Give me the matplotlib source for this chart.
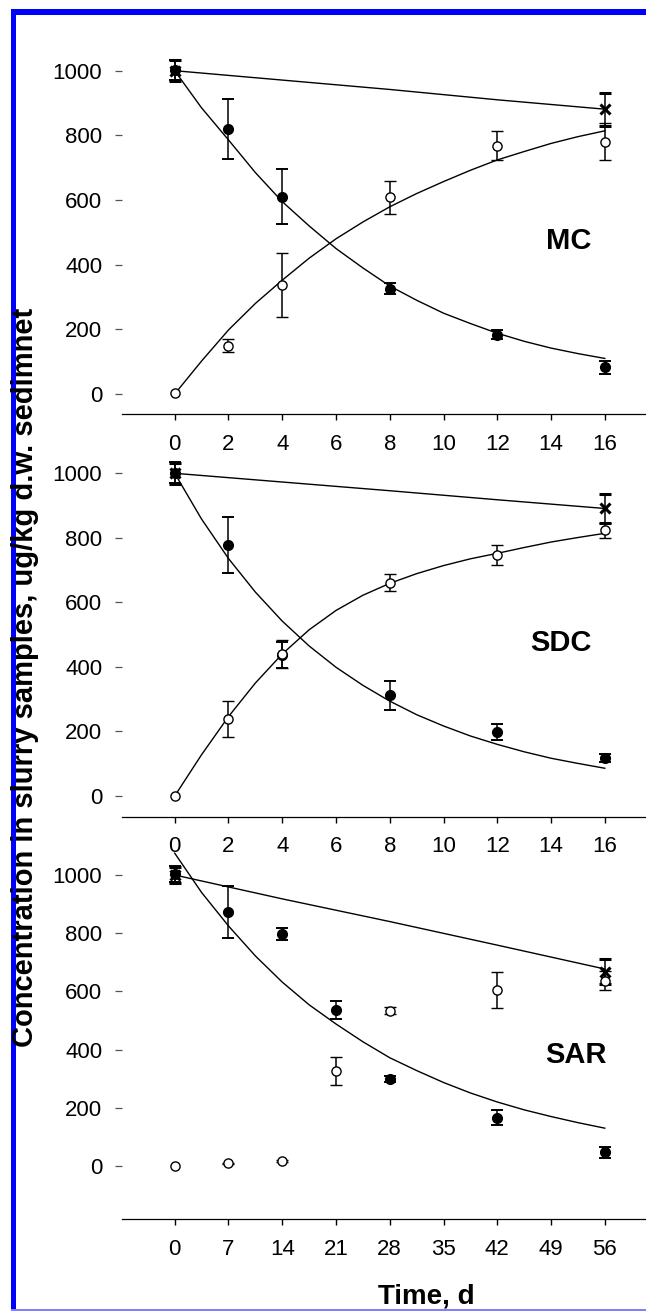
import numpy as np
import matplotlib
matplotlib.use('Agg')
from matplotlib import pyplot as plt
from matplotlib.patches import Rectangle

plt.rcParams['font.family'] = ['Liberation Sans', 'DejaVu Sans']

# ---- MC panel ----
mc_t = [0, 2, 4, 8, 12, 16]
mc_parent = [1002, 820, 610, 326, 183, 82]
mc_parent_err = [32, 94, 85, 18, 14, 19]
mc_metab = [2, 149, 337, 608, 768, 781]
mc_metab_err = [np.nan, 20, 100, 50, 45, 57]
mc_total_t = [0, 16]
mc_total = [1000, 880]
mc_total_err = [32, 52]
# fitted curves
mc_fit_t = list(range(17))
mc_parent_fit = [1000, 885, 786, 685, 595, 520, 450, 390, 334, 290, 250, 218, 188, 163, 142, 125, 110]
mc_metab_fit = [0, 102, 198, 280, 352, 420, 480, 532, 579, 620, 657, 692, 724, 750, 775, 796, 814]
mc_total_fit_t = [0, 4, 8, 12, 16]
mc_total_fit = [1000, 971, 942, 910, 881]

# ---- SDC panel ----
sdc_t = [0, 2, 4, 8, 12, 16]
sdc_parent = [1002, 778, 437, 312, 198, 117]
sdc_parent_err = [32, 88, 40, 44, 24, 13]
sdc_metab = [0, 239, 439, 661, 747, 824]
sdc_metab_err = [np.nan, 55, 43, 27, 31, 23]
sdc_total_t = [0, 16]
sdc_total = [1000, 891]
sdc_total_err = [32, 44]
sdc_fit_t = list(range(17))
sdc_parent_fit = [1000, 858, 736, 632, 542, 465, 399, 343, 294, 252, 217, 186, 160, 137, 117, 101, 86]
sdc_metab_fit = [0, 128, 246, 350, 440, 515, 575, 622, 659, 689, 714, 735, 752, 770, 787, 801, 814]
sdc_total_fit_t = [0, 4, 8, 12, 16]
sdc_total_fit = [1000, 973, 946, 918, 891]

# ---- SAR panel ----
sar_t = [0, 7, 14, 21, 28, 42, 56]
sar_parent = [1003, 874, 797, 536, 298, 166, 48]
sar_parent_err = [27, 89, 22, 31, 10, 26, 19]
sar_metab = [0, 9, 17, 325, 534, 605, 637]
sar_metab_err = [np.nan, 3, 3, 48, 11, 61, 33]
sar_total_t = [0, 56]
sar_total = [1000, 668]
sar_total_err = [27, 44]
sar_fit_t = [0, 3.5, 7, 10.5, 14, 17.5, 21, 24.5, 28, 31.5, 35, 38.5, 42, 45.5, 49, 52.5, 56]
sar_parent_fit = [1075, 940, 825, 722, 632, 554, 488, 427, 372, 328, 287, 251, 220, 193, 170, 149, 130]
sar_total_fit_t = [0, 14, 28, 42, 56]
sar_total_fit = [1000, 918, 840, 759, 677]

y_ticks = [0, 200, 400, 600, 800, 1000]

W, H = 646, 1311
fig = plt.figure(figsize=(W / 100, H / 100), dpi=100)


def make_panel(y0_px, y1000_px, axis_px, tend, xticks):
    py = (y0_px - y1000_px) / 1000.0
    ytop = 1120
    ybot = -(axis_px - y0_px) / py
    top_px = y0_px - ytop * py
    x0_px, xend_px, left_px = 174.7, 604.8, 122
    px = (xend_px - x0_px) / tend
    ax = fig.add_axes([left_px / W, (H - axis_px) / H, (W - left_px) / W,
                       (axis_px - top_px) / H])
    ax.set_xlim(-(x0_px - left_px) / px, (W - x0_px) / px)
    ax.set_ylim(ybot, ytop)
    ax.patch.set_visible(False)
    for s in ['top', 'right', 'left']:
        ax.spines[s].set_visible(False)
    ax.spines['bottom'].set_linewidth(0.9)
    ax.set_xticks(xticks)
    ax.set_yticks(y_ticks)
    ax.tick_params(axis='x', direction='out', length=4.6, width=1.0,
                   pad=9.5, labelsize=16)
    ax.tick_params(axis='y', direction='out', length=4.7, width=0.9,
                   pad=9.5, labelsize=16, color='#555555')
    return ax


def draw(ax, t, parent, parent_err, metab, metab_err, tot_t, tot, tot_err):
    ax.errorbar(tot_t, tot, yerr=tot_err, fmt='x', color='black', ms=7,
                mew=2.2, capsize=4.3, elinewidth=1.1, capthick=1.4, zorder=3)
    ax.errorbar(t, parent, yerr=parent_err, fmt='o', color='black',
                mfc='black', ms=7, capsize=4.3, elinewidth=1.1,
                capthick=1.4, zorder=4)
    ax.errorbar(t, metab, yerr=metab_err, fmt='o', color='black',
                mfc='white', mec='black', ms=6.6, mew=1.0, capsize=4.3,
                elinewidth=1.1, capthick=1.4, zorder=5)


line_kw = dict(color='black', lw=1.0, zorder=2)

ax1 = make_panel(394.0, 70.7, 414.3, 16, range(0, 17, 2))
draw(ax1, mc_t, mc_parent, mc_parent_err, mc_metab, mc_metab_err,
     mc_total_t, mc_total, mc_total_err)
ax1.plot(mc_fit_t, mc_parent_fit, **line_kw)
ax1.plot(mc_fit_t, mc_metab_fit, **line_kw)
ax1.plot(mc_total_fit_t, mc_total_fit, **line_kw)
ax1.text(14.67, 474, 'MC', fontsize=21, fontweight='bold', ha='center', va='center')

ax2 = make_panel(796.0, 473.3, 816.7, 16, range(0, 17, 2))
draw(ax2, sdc_t, sdc_parent, sdc_parent_err, sdc_metab, sdc_metab_err,
     sdc_total_t, sdc_total, sdc_total_err)
ax2.plot(sdc_fit_t, sdc_parent_fit, **line_kw)
ax2.plot(sdc_fit_t, sdc_metab_fit, **line_kw)
ax2.plot(sdc_total_fit_t, sdc_total_fit, **line_kw)
ax2.text(14.36, 475, 'SDC', fontsize=21, fontweight='bold', ha='center', va='center')

ax3 = make_panel(1166.0, 875.0, 1219.3, 56, range(0, 57, 7))
draw(ax3, sar_t, sar_parent, sar_parent_err, sar_metab, sar_metab_err,
     sar_total_t, sar_total, sar_total_err)
ax3.plot(sar_fit_t, sar_parent_fit, **line_kw)
ax3.plot(sar_total_fit_t, sar_total_fit, **line_kw)
ax3.text(52.2, 381, 'SAR', fontsize=21, fontweight='bold', ha='center', va='center')

# shared labels
fig.text(25 / W, 1 - 677 / H, 'Concentration in slurry samples, ug/kg d.w. sedimnet',
         rotation=90, fontsize=21, fontweight='bold', ha='center', va='center')
fig.text(426 / W, 1 - 1303 / H, 'Time, d', fontsize=20, fontweight='bold',
         ha='center', va='baseline')

# blue frame
fig.add_artist(Rectangle((11 / W, 0), 5 / W, 1 - 9.5 / H, transform=fig.transFigure,
                         color='#0000ff', lw=0))
fig.add_artist(Rectangle((11 / W, 1 - 15 / H), 1 - 11 / W, 5.5 / H,
                         transform=fig.transFigure, color='#0000ff', lw=0))
fig.add_artist(Rectangle((11 / W, 0), 1 - 11 / W, 2 / H, transform=fig.transFigure,
                         color='#8080ff', lw=0))

fig.savefig('out.png', dpi=100)
